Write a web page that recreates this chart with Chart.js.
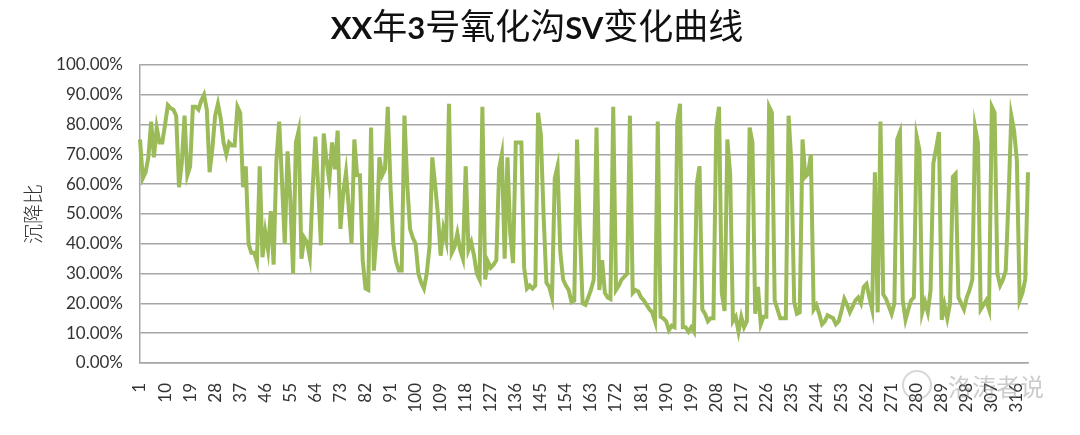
<!DOCTYPE html>
<html>
<head>
<meta charset="utf-8">
<title>XX年3号氧化沟SV变化曲线</title>
<script src="https://cdn.jsdelivr.net/npm/chart.js"></script>
<style>
  body { margin: 0; background: #fff; }
  #wrap { position: relative; width: 1080px; height: 435px; }
  #mark { position: absolute; left: 948px; top: 368px; font: 24px "Noto Sans CJK SC"; color: rgba(140,140,140,0.45); }
  #mark span { display: inline-block; width: 26px; height: 26px; border: 2px solid rgba(140,140,140,0.35); border-radius: 50%; position: absolute; left: -46px; top: 2px; }
</style>
</head>
<body>
<div id="wrap">
<canvas id="svChart" width="1080" height="435"></canvas>
<div id="mark"><span></span>洛涛者说</div>
</div>
<script>
var chartTitle = 'XX年3号氧化沟SV变化曲线';

// 序号 1..320
var days = [];
for (var d = 1; d <= 320; d++) days.push(String(d));

// 沉降比 SV (%)
var sv = [
  75, 62, 64, 69, 81, 69, 79, 74, 74, 80,
  86.5, 85.5, 85, 83, 59, 67, 83, 63, 66, 86,
  86, 85, 88, 90, 85, 64, 72, 83, 87, 82,
  74, 70, 74, 73, 73, 86, 84, 59, 66, 40,
  37, 37, 34, 66, 35.5, 44, 38, 51, 33, 68,
  81, 61, 40, 71, 55, 30, 74, 78, 35, 42,
  40.5, 35.5, 58, 76, 59, 39.5, 77, 68, 61, 74,
  65, 78, 45, 57, 64, 52, 40, 75, 63, 63,
  34.5, 25, 24.5, 79, 31, 43, 69, 63, 65, 86,
  59, 40, 34, 31, 31, 83, 60, 45, 42, 40,
  30, 27, 25, 30, 39, 69, 60, 50, 36, 45,
  41, 87, 37, 39, 43.5, 38, 35, 66, 38, 40.5,
  36, 30, 28, 86, 28, 34, 32, 33, 34.5, 65,
  70, 35, 69, 43.5, 33.5, 74, 74, 74, 32, 25,
  26, 25, 26, 84, 76.5, 49, 27, 25.5, 22, 62,
  66, 37, 28, 26, 24.5, 20.5, 21, 75, 45, 20,
  19.5, 22, 24.5, 28, 79, 24.5, 34.5, 23.5, 22, 21.5,
  86, 24.5, 26, 28, 29, 30, 83, 23.5, 24.5, 24,
  22, 21, 19.5, 18, 17, 14, 81, 15.5, 15, 14,
  11, 12.5, 12, 81, 87, 12, 12, 10.5, 12, 10.5,
  60, 66, 18, 16.5, 14, 15, 15, 79, 86, 23.5,
  17.5, 75, 63.5, 14, 15.5, 10.5, 15.5, 12, 14, 79,
  74, 16.5, 25.5, 13, 15.5, 15.5, 86, 84, 21, 18,
  15, 15, 15, 83, 67, 20.5, 16.5, 17, 75, 62.5,
  63.5, 70, 18, 19.5, 16.5, 13, 14, 16, 15.5, 15,
  13, 14, 17.5, 21.5, 19.5, 17, 19, 21, 22, 20,
  25.5, 26.5, 22, 18, 64, 17, 81, 23, 21.5, 19,
  16.5, 20, 75, 77.5, 21, 14.5, 18, 21, 22, 76,
  71.5, 17, 20.5, 17, 24.5, 67, 72, 77.5, 14.5, 19.5,
  15, 20, 62.5, 63.5, 22, 20, 18, 22, 24.5, 28,
  79, 74, 18, 19.5, 21, 18, 86, 84, 30, 26,
  28, 31, 55, 83, 78, 68, 21, 23.5, 28, 64
];

var labelStep = 9;
var gridGrey = '#a6a6a6';
var textGrey = '#333333';

// title: latin bold, chinese regular (like the excel picture)
var mixedTitle = {
    id: 'mixedTitle',
    afterDraw: function (chart) {
        var c = chart.ctx;
        var parts = chartTitle.split(/([A-Za-z0-9]+)/).filter(function (p) { return p.length; });
        var fonts = parts.map(function (p) {
            return /[A-Za-z0-9]/.test(p) ? 'bold 31px Lato' : '35px "Noto Sans CJK SC"';
        });
        c.save();
        var total = 0;
        parts.forEach(function (p, i) { c.font = fonts[i]; total += c.measureText(p).width; });
        var x = chart.width / 2 - total / 2 - 3;
        c.fillStyle = '#111';
        c.textBaseline = 'alphabetic';
        c.textAlign = 'left';
        parts.forEach(function (p, i) {
            c.font = fonts[i];
            c.fillText(p, x, 39);
            x += c.measureText(p).width;
        });
        c.restore();
    }
};

var ctx = document.getElementById('svChart').getContext('2d');
var chart = new Chart(ctx, {
    type: 'line',
    data: {
        labels: days,
        datasets: [{
            label: 'SV',
            data: sv,
            borderColor: '#9bbb59',
            borderWidth: 4,
            pointRadius: 0,
            tension: 0,
            fill: false
        }]
    },
    options: {
        responsive: false,
        animation: false,
        devicePixelRatio: 1,
        layout: { padding: { left: 17, right: 52, top: 65, bottom: 0 } },
        plugins: {
            legend: { display: false },
            tooltip: { enabled: false },
            title: { display: false }
        },
        scales: {
            x: {
                offset: false,
                grid: { display: false },
                border: { display: true, color: gridGrey, width: 1.5 },
                ticks: {
                    autoSkip: false,
                    minRotation: 90,
                    maxRotation: 90,
                    padding: 12,
                    color: textGrey,
                    font: { family: 'Lato', size: 17 },
                    callback: function (val, idx) {
                        return idx % labelStep === 0 ? days[idx] : '';
                    }
                },
                afterFit: function (scale) { scale.height = 72; }
            },
            y: {
                min: 0,
                max: 100,
                grid: { color: gridGrey, lineWidth: 1.5, drawTicks: false },
                border: { display: true, color: gridGrey, width: 1.5 },
                ticks: {
                    stepSize: 10,
                    padding: 17,
                    color: textGrey,
                    font: { family: 'Lato', size: 17 },
                    callback: function (v) { return v.toFixed(2) + '%'; }
                },
                title: {
                    display: true,
                    text: '沉降比',
                    color: textGrey,
                    font: { family: '"Noto Sans CJK SC"', size: 20, weight: 300, lineHeight: 1.2 }
                },
                afterFit: function (scale) { scale.width = 123; }
            }
        }
    },
    plugins: [mixedTitle]
});
</script>
</body>
</html>
